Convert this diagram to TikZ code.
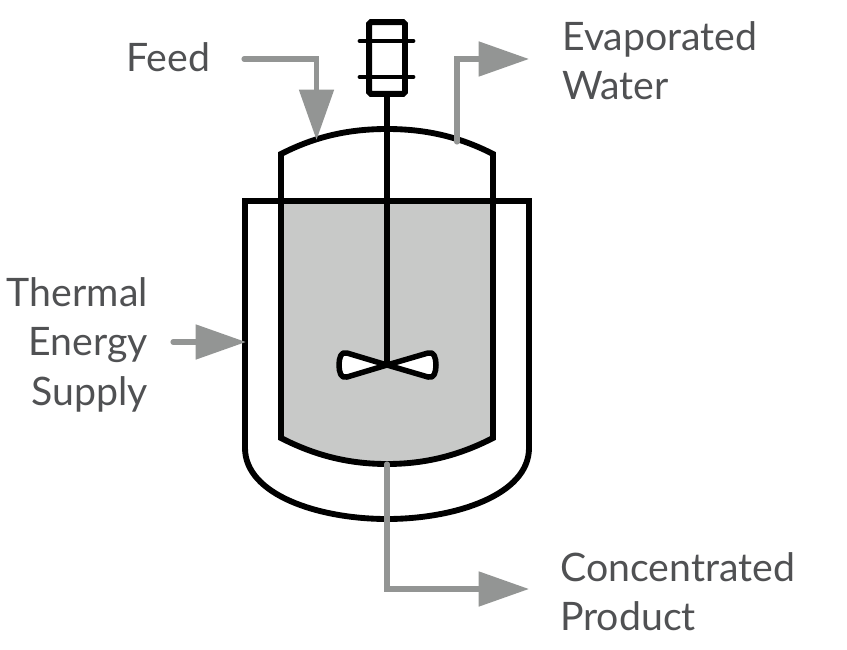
\documentclass[tikz,border=0pt]{standalone}
\usepackage{fontspec}
\setmainfont{Lato}
\usepackage{xcolor}
\usetikzlibrary{arrows.meta,positioning,calc}
\definecolor{liquidgrey}{HTML}{C8C9C8}
\definecolor{pipegrey}{HTML}{939594}
\definecolor{labelgrey}{HTML}{505153}

\begin{document}
\begin{tikzpicture}[
  x=0.03cm, y=-0.03cm,
  wall/.style={draw=black, line width=5pt, line join=miter},
  pipe/.style={draw=pipegrey, line width=4.4pt, line cap=round, line join=miter,
               -{Triangle[length=43pt, width=29pt, fill=pipegrey]}},
  lbl/.style={inner sep=0pt, text=labelgrey, font=\fontsize{33.5}{42.5}\selectfont}
]
\useasboundingbox (0,0) rectangle (847,649);

%--- liquid ---
\fill[liquidgrey] (281,201) -- (493,201) -- (493,438)
  .. controls (458,456) and (424,464) .. (387,464)
  .. controls (350,464) and (316,456) .. (281,438) -- cycle;

%--- vessel and jacket ---
\draw[wall] (245,201) -- (529,201) -- (529,448)
  .. controls (529,495) and (455,519) .. (387,519)
  .. controls (319,519) and (245,495) .. (245,448) -- cycle;
\draw[wall] (281,438) -- (281,154)
  .. controls (316,136) and (350,129) .. (387,129)
  .. controls (424,129) and (458,136) .. (493,154) -- (493,438)
  .. controls (458,456) and (424,464) .. (387,464)
  .. controls (350,464) and (316,456) .. (281,438) -- cycle;

%--- motor and shaft ---
\node[draw=black, line width=5pt, rounded corners=1.5pt, inner sep=0pt,
      minimum width=30.6pt, minimum height=61.2pt] (motor) at (387,58) {};
\draw[wall, line width=4.2pt, line cap=round] (360,41) -- (413,41);
\draw[wall, line width=4.2pt, line cap=round] (360,77) -- (413,77);
\coordinate (hub) at (387,365);
\draw[wall] (motor.south) -- (hub);

%--- impeller ---
\draw[wall, fill=white, line width=4.7pt, line join=round] (hub)
  -- (347,353) .. controls (341,351) and (339,358) .. (339,365)
  .. controls (339,372) and (341,379) .. (347,377) -- (hub)
  -- (428,353) .. controls (434,351) and (436,358) .. (436,365)
  .. controls (436,372) and (434,379) .. (428,377) -- cycle;

%--- labels ---
\node[lbl, anchor=base west] (feed) at (126,72) {Feed};
\node[lbl, anchor=north west, align=left] (water) at (562,21) {Evaporated\\Water};
\node[lbl, anchor=north east, align=right] (energy) at (148,277) {Thermal\\Energy\\Supply};
\node[lbl, anchor=north west, align=left] (product) at (560,552) {Concentrated\\Product};

%--- pipes ---
\coordinate (feedin) at (244,59);
\coordinate (feedtip) at (316.5,140);
\coordinate (waterout) at (457,142);
\coordinate (watertip) at (529,59);
\coordinate (energyin) at (173,342);
\coordinate (energytip) at (246,342);
\coordinate (productout) at (387,464);
\coordinate (producttip) at (529,589);
\draw[pipe] (feedin) -| (feedtip);
\draw[pipe] (waterout) |- (watertip);
\draw[pipe] (energyin) -- (energytip);
\draw[pipe] (productout) |- (producttip);

\end{tikzpicture}
\end{document}
